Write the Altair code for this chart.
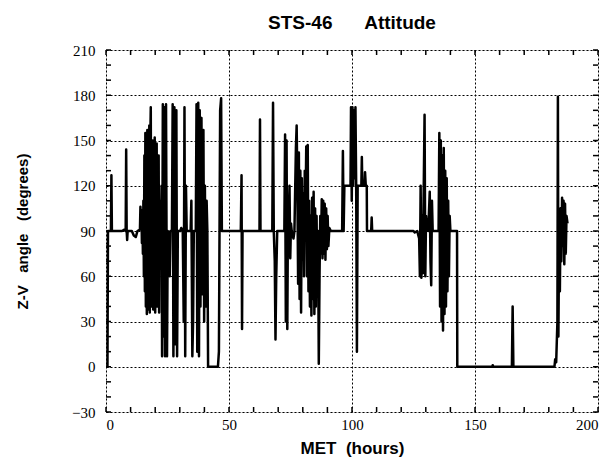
import altair as alt
import pandas as pd

# MET (hours) and Z-V angle (degrees)
met = [
    0.0, 0.6, 0.8, 2.0, 2.2, 2.4, 6.5, 7.5, 8.0, 8.2, 8.4, 8.6, 8.8, 10.5, 11.3, 12.1, 12.8, 13.8,
    14.0, 14.2, 14.4, 14.6, 14.8, 15.0, 15.2, 15.4, 15.6, 15.8, 16.0, 16.2, 16.4, 16.6, 16.8, 17.0,
    17.2, 17.4, 17.6, 17.8, 18.0, 18.2, 18.4, 18.6, 18.8, 19.0, 19.2, 19.4, 19.6, 19.8, 20.0, 20.2,
    20.4, 20.6, 20.8, 21.0, 21.2, 21.4, 21.6, 21.8, 22.0, 22.3, 22.6, 22.8, 23.1, 23.4, 23.7, 24.0,
    24.4, 24.8, 25.1, 25.6, 25.9, 26.2, 26.8, 27.1, 27.4, 27.8, 28.2, 28.6, 28.9, 29.2, 30.2, 30.6,
    31.2, 31.6, 31.9, 32.2, 32.5, 32.8, 34.4, 34.7, 35.1, 35.4, 35.7, 36.5, 36.8, 37.1, 37.5, 37.8,
    38.1, 38.4, 38.8, 39.2, 39.6, 39.9, 40.2, 40.5, 40.9, 41.2, 41.5, 45.5, 45.9, 46.4, 46.8, 47.1,
    54.8, 55.1, 55.3, 55.5, 62.4, 62.6, 62.8, 67.6, 67.9, 68.2, 68.6, 68.9, 69.2, 69.6, 72.5, 72.8,
    73.1, 73.4, 73.7, 74.0, 74.3, 74.6, 74.9, 75.2, 75.5, 76.2, 76.6, 77.2, 77.5, 77.8, 78.1, 78.4,
    78.7, 79.0, 79.3, 79.6, 79.9, 80.2, 80.5, 80.8, 81.1, 81.4, 81.7, 82.0, 82.3, 82.6, 82.9, 83.2,
    83.5, 83.8, 84.1, 84.4, 84.7, 85.0, 85.3, 85.6, 85.9, 86.2, 86.5, 86.8, 87.1, 87.4, 87.7, 88.0,
    88.3, 88.6, 88.9, 89.2, 89.5, 89.8, 90.1, 90.4, 90.8, 91.4, 96.0, 96.3, 96.6, 96.9, 99.4, 99.6,
    99.9, 100.2, 100.5, 100.8, 101.1, 101.4, 101.7, 102.0, 102.3, 103.8, 104.0, 104.2, 105.1, 105.3,
    105.6, 106.0, 106.1, 107.8, 108.0, 108.2, 125.0, 125.5, 126.5, 127.3, 127.6, 127.9, 128.2, 128.5,
    128.8, 129.1, 129.5, 129.8, 130.1, 130.4, 131.0, 131.6, 131.9, 132.2, 132.5, 132.8, 135.2, 135.5,
    135.8, 136.1, 136.4, 136.7, 137.0, 137.3, 137.6, 137.9, 138.2, 138.5, 138.8, 139.1, 139.4, 139.7,
    140.0, 142.7, 142.8, 157.0, 157.2, 157.4, 165.0, 165.3, 165.6, 182.3, 182.6, 183.0, 183.5, 183.7,
    183.9, 184.2, 184.5, 184.8, 185.1, 185.4, 185.7, 186.0, 186.3, 186.6, 186.9, 187.2, 187.6,
]
angle = [
    0, 0, 90, 90, 127, 90, 90, 91, 90, 144, 90, 84, 90, 90, 87, 86, 90, 91,
    106, 95, 104, 82, 100, 75, 110, 60, 140, 50, 155, 40, 120, 35, 157, 38,
    145, 50, 160, 36, 150, 172, 40, 140, 60, 150, 38, 135, 45, 152, 36, 130,
    55, 148, 40, 120, 65, 140, 36, 110, 70, 90, 120, 7, 174, 20, 172, 7,
    174, 7, 90, 88, 60, 90, 90, 174, 7, 172, 15, 170, 7, 90, 90, 92,
    90, 30, 172, 7, 120, 90, 90, 110, 7, 30, 90, 90, 174, 10, 175, 7,
    170, 40, 165, 48, 157, 30, 120, 40, 110, 90, 0, 0, 10, 170, 178, 90,
    90, 127, 25, 90, 90, 164, 90, 90, 175, 90, 70, 18, 60, 90, 90, 154,
    30, 150, 25, 110, 100, 120, 72, 95, 90, 85, 90, 145, 160, 120, 55, 142,
    45, 130, 36, 125, 80, 115, 60, 130, 100, 146, 60, 147, 50, 110, 40, 100,
    34, 112, 45, 116, 35, 105, 40, 100, 50, 90, 2, 60, 100, 75, 111, 72,
    110, 75, 108, 71, 105, 78, 100, 80, 92, 90, 90, 143, 90, 120, 120, 172,
    110, 172, 120, 170, 125, 172, 120, 10, 120, 120, 139, 120, 120, 129,
    120, 120, 90, 90, 99, 90, 90, 89, 90, 85, 60, 120, 59, 100,
    62, 110, 167, 60, 100, 92, 90, 116, 70, 54, 110, 90, 90, 155,
    40, 150, 30, 140, 24, 145, 35, 130, 40, 125, 50, 110, 60, 100,
    90, 90, 0, 0, 1, 0, 0, 40, 0, 0, 5, 3, 30, 179,
    20, 90, 50, 105, 70, 112, 80, 110, 68, 108, 75, 100, 95,
]

x_ticks = [0, 50, 100, 150, 200]
y_ticks = [-30, 0, 30, 60, 90, 120, 150, 180, 210]
x_minor = list(range(0, 201, 10))
y_minor = list(range(-30, 211, 10))

W, H = 492, 362
NB = "\u00a0"

df = pd.DataFrame({"met": met, "angle": angle, "i": range(len(met))})
xs = alt.Scale(domain=[0, 200], nice=False, zero=False)
ys = alt.Scale(domain=[-30, 210], nice=False, zero=False)

line = alt.Chart(df).mark_line(color="black", strokeWidth=2.5, strokeJoin="round").encode(
    x=alt.X("met:Q", scale=xs, axis=alt.Axis(
        values=x_ticks, title=f"MET{NB}{NB}(hours)", grid=True, ticks=False, domain=False,
        labelFont="Liberation Serif", labelFontSize=15, labelColor="black", labelPadding=5,
        titleFont="Liberation Sans", titleFontSize=17, titleFontWeight="bold", titleColor="black",
        titleY=36, titleBaseline="middle",
        gridColor="black", gridDash=[2, 2], gridWidth=1, gridOpacity=1)),
    y=alt.Y("angle:Q", scale=ys, axis=alt.Axis(
        values=y_ticks, title=f"Z-V{NB}{NB}{NB}angle{NB}{NB}{NB}(degrees)", grid=True, ticks=False, domain=False,
        labelFont="Liberation Serif", labelFontSize=15, labelColor="black", labelPadding=11,
        titleFont="Liberation Sans", titleFontSize=15, titleFontWeight="bold", titleColor="black",
        titleX=-84, titleY=H / 2, titleAngle=270, titleBaseline="middle", titleAlign="center",
        gridColor="black", gridDash=[2, 2], gridWidth=1, gridOpacity=1)),
    order="i:Q",
)

xm = pd.DataFrame({"t": x_minor})
ym = pd.DataFrame({"t": y_minor})
tick_style = dict(color="black", strokeWidth=1.5)
bottom = alt.Chart(xm).mark_rule(**tick_style).encode(
    x=alt.X("t:Q", scale=xs), y=alt.value(H), y2=alt.value(H - 5))
top = alt.Chart(xm).mark_rule(**tick_style).encode(
    x=alt.X("t:Q", scale=xs), y=alt.value(0), y2=alt.value(5))
left = alt.Chart(ym).mark_rule(**tick_style).encode(
    y=alt.Y("t:Q", scale=ys), x=alt.value(0), x2=alt.value(5))
right = alt.Chart(ym).mark_rule(**tick_style).encode(
    y=alt.Y("t:Q", scale=ys), x=alt.value(W), x2=alt.value(W - 5))

chart = alt.layer(line, bottom, top, left, right).properties(
    width=W, height=H,
    title=alt.TitleParams(f"STS-46{NB}{NB}{NB}{NB}{NB}{NB}Attitude", font="Liberation Sans", fontSize=19,
                          fontWeight="bold", color="black", anchor="middle", offset=10),
    autosize=alt.AutoSizeParams(type="none"),
    padding={"left": 106, "top": 50, "right": 16, "bottom": 56},
).configure_view(stroke="black", strokeWidth=2).configure(background="white")

chart.save("out.html", embed_options={"renderer": "svg", "actions": False})
